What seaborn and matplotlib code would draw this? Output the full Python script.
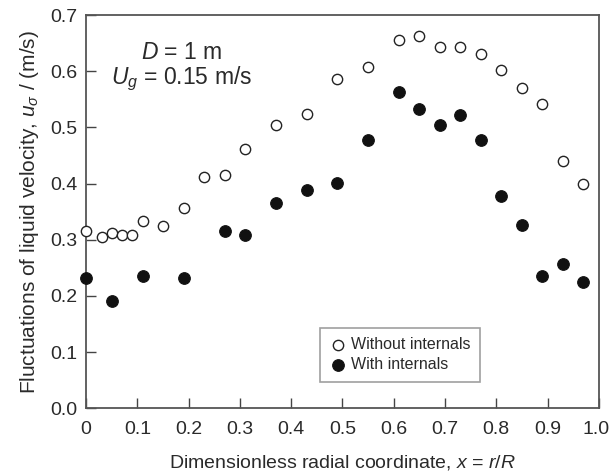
import matplotlib
matplotlib.use("Agg")
import matplotlib.pyplot as plt
import seaborn as sns
import pandas as pd
import numpy as np

x_without = [0.0, 0.03, 0.05, 0.07, 0.09, 0.11, 0.15, 0.19, 0.23, 0.27, 0.31, 0.37, 0.43,
             0.49, 0.55, 0.61, 0.65, 0.69, 0.73, 0.77, 0.81, 0.85, 0.89, 0.93, 0.97]
u_without = [0.316, 0.305, 0.312, 0.308, 0.308, 0.334, 0.324, 0.357, 0.412, 0.415, 0.461,
             0.504, 0.524, 0.586, 0.608, 0.655, 0.662, 0.644, 0.644, 0.631, 0.603, 0.570,
             0.541, 0.440, 0.400]
x_with = [0.0, 0.05, 0.11, 0.19, 0.27, 0.31, 0.37, 0.43, 0.49, 0.55, 0.61, 0.65, 0.69,
          0.73, 0.77, 0.81, 0.85, 0.89, 0.93, 0.97]
u_with = [0.231, 0.191, 0.235, 0.232, 0.316, 0.309, 0.366, 0.389, 0.401, 0.477, 0.563,
          0.532, 0.505, 0.523, 0.478, 0.378, 0.326, 0.235, 0.256, 0.224]
series_labels = ["Without internals", "With internals"]
x_ticks = [0, 0.1, 0.2, 0.3, 0.4, 0.5, 0.6, 0.7, 0.8, 0.9, 1.0]
x_ticklabels = ["0", "0.1", "0.2", "0.3", "0.4", "0.5", "0.6", "0.7", "0.8", "0.9", "1.0"]
y_ticks = [0.0, 0.1, 0.2, 0.3, 0.4, 0.5, 0.6, 0.7]

sns.set_theme(style="ticks")
plt.rcParams['font.family'] = ['Liberation Sans', 'DejaVu Sans']
plt.rcParams['mathtext.fontset'] = 'custom'
plt.rcParams['mathtext.rm'] = 'Liberation Sans'
plt.rcParams['mathtext.it'] = 'Liberation Sans:italic'
plt.rcParams['mathtext.sf'] = 'Liberation Sans'

txt = '#2a2a2a'
df = pd.concat([
    pd.DataFrame({"x": x_without, "u": u_without, "series": series_labels[0]}),
    pd.DataFrame({"x": x_with, "u": u_with, "series": series_labels[1]}),
])

fig = plt.figure(figsize=(6.11, 4.73), dpi=100)
ax = fig.add_axes([0.141, 0.137, 0.839, 0.831])

sns.scatterplot(data=df[df.series == series_labels[0]], x="x", y="u", ax=ax,
                marker='o', s=55, facecolor='white', edgecolor='#222222', linewidth=1.0,
                label=series_labels[0], clip_on=False, zorder=3)
sns.scatterplot(data=df[df.series == series_labels[1]], x="x", y="u", ax=ax,
                marker='o', s=70, color='#111111', edgecolor='#111111', linewidth=0.8,
                label=series_labels[1], clip_on=False, zorder=3)

ax.set_xlim(0, 1.0)
ax.set_ylim(0, 0.7)
ax.set_xticks(x_ticks)
ax.set_xticklabels(x_ticklabels)
ax.set_yticks(y_ticks)
ax.set_yticklabels([f"{v:.1f}" for v in y_ticks])
ax.tick_params(axis='both', direction='in', length=7, width=1.0, color='#444444',
               labelsize=14, labelcolor=txt)
ax.tick_params(axis='x', pad=9)
ax.tick_params(axis='y', pad=6)
ax.tick_params(top=False, right=False)
for sp in ax.spines.values():
    sp.set_visible(True)
    sp.set_color('#555555')
    sp.set_linewidth(1.3)
# keep the last x tick label inside the figure
xtl = ax.get_xticklabels()
xtl[-1].set_horizontalalignment('right')
xtl[-1].set_x(1.0)
import matplotlib.transforms as mtransforms
offset = mtransforms.ScaledTranslation(11 / 100, 0, fig.dpi_scale_trans)
xtl[-1].set_transform(xtl[-1].get_transform() + offset)

ax.set_xlabel(r"Dimensionless radial coordinate, $x$ = $r/R$", fontsize=14, color=txt, labelpad=11)
ax.set_ylabel(r"Fluctuations of liquid velocity, $u_{\sigma}$ / (m/s)", fontsize=15, color=txt, labelpad=7)

ax.text(0.187, 0.634, r"$D$ = 1 m", fontsize=16.5, color=txt, ha='center', va='center')
ax.text(0.187, 0.587, r"$U_g$ = 0.15 m/s", fontsize=16.5, color=txt, ha='center', va='center')

leg = ax.legend(loc='upper left', bbox_to_anchor=(0.457, 0.205), frameon=True, fancybox=False,
                edgecolor='#888888', fontsize=11.5, handletextpad=0.3, borderpad=0.6,
                labelspacing=0.3, handlelength=1.0, borderaxespad=0)
leg.get_frame().set_linewidth(1.2)
for t in leg.get_texts():
    t.set_color(txt)

fig.savefig("out.png", dpi=100)
